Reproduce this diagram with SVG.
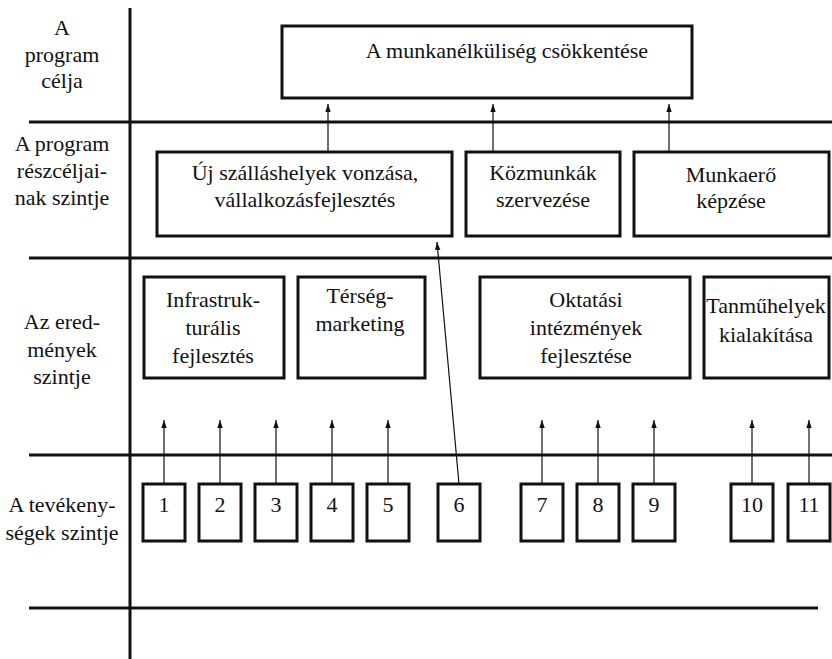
<svg xmlns="http://www.w3.org/2000/svg" width="832" height="659" viewBox="0 0 832 659" font-family="'Liberation Serif', 'Times New Roman', serif">
<style>
  .lbl { font-family: "Liberation Serif", "Times New Roman", serif; font-size: 22px; fill: #111; text-anchor: middle; }
  .box { fill: #fff; stroke: #111; stroke-width: 3; }
  .div { stroke: #111; stroke-width: 3; fill: none; }
  .con { stroke: #111; stroke-width: 1.2; fill: none; marker-end: url(#ah); }
</style>
<defs>
  <marker id="ah" markerWidth="8" markerHeight="8" viewBox="0 0 8 8" refX="8" refY="4" orient="auto" markerUnits="userSpaceOnUse">
    <path d="M0,1.3 L8,4 L0,6.7 z" fill="#111"/>
  </marker>
</defs>
<rect width="832" height="659" fill="#fff"/>

<g id="grid">
  <line class="div" x1="130" y1="8" x2="130" y2="659"/>
  <line class="div" x1="29" y1="122" x2="832" y2="122"/>
  <line class="div" x1="29" y1="258" x2="832" y2="258"/>
  <line class="div" x1="29" y1="455" x2="832" y2="455"/>
  <line class="div" x1="29" y1="608" x2="818" y2="608"/>
</g>

<g id="level-labels">
  <text class="lbl" x="62" y="35">A</text>
  <text class="lbl" x="62" y="62">program</text>
  <text class="lbl" x="62" y="88">célja</text>
  <text class="lbl" x="62" y="151">A program</text>
  <text class="lbl" x="62" y="178">részcéljai-</text>
  <text class="lbl" x="62" y="205">nak szintje</text>
  <text class="lbl" x="62" y="329">Az ered-</text>
  <text class="lbl" x="62" y="357">mények</text>
  <text class="lbl" x="62" y="384">szintje</text>
  <text class="lbl" x="62" y="512">A tevékeny-</text>
  <text class="lbl" x="62" y="540">ségek szintje</text>
</g>

<g id="connectors">
  <line class="con" x1="328" y1="151" x2="328" y2="104"/>
  <line class="con" x1="493" y1="151" x2="493" y2="104"/>
  <line class="con" x1="669" y1="151" x2="669" y2="104"/>
  <line class="con" x1="164" y1="484" x2="164" y2="420"/>
  <line class="con" x1="220" y1="484" x2="220" y2="420"/>
  <line class="con" x1="276" y1="484" x2="276" y2="420"/>
  <line class="con" x1="332" y1="484" x2="332" y2="420"/>
  <line class="con" x1="388" y1="484" x2="388" y2="420"/>
  <line class="con" x1="542" y1="484" x2="542" y2="420"/>
  <line class="con" x1="598" y1="484" x2="598" y2="420"/>
  <line class="con" x1="654" y1="484" x2="654" y2="420"/>
  <line class="con" x1="752" y1="484" x2="752" y2="420"/>
  <line class="con" x1="809" y1="484" x2="809" y2="420"/>
  <line class="con" x1="459" y1="484" x2="437" y2="242"/>
</g>

<g id="goal">
  <rect class="box" x="282" y="26" width="410" height="72"/>
  <text class="lbl" x="507" y="58">A munkanélküliség csökkentése</text>
</g>

<g id="sub1">
  <rect class="box" x="157" y="152" width="295" height="84"/>
  <text class="lbl" x="305" y="180">Új szálláshelyek vonzása,</text>
  <text class="lbl" x="305" y="207">vállalkozásfejlesztés</text>
</g>
<g id="sub2">
  <rect class="box" x="466" y="152" width="154" height="84"/>
  <text class="lbl" x="543" y="180">Közmunkák</text>
  <text class="lbl" x="543" y="207">szervezése</text>
</g>
<g id="sub3">
  <rect class="box" x="634" y="152" width="195" height="84"/>
  <text class="lbl" x="731" y="182">Munkaerő</text>
  <text class="lbl" x="731" y="208">képzése</text>
</g>

<g id="res1">
  <rect class="box" x="144" y="277" width="140" height="101"/>
  <text class="lbl" x="213" y="307">Infrastruk-</text>
  <text class="lbl" x="213" y="335">turális</text>
  <text class="lbl" x="213" y="363">fejlesztés</text>
</g>
<g id="res2">
  <rect class="box" x="298" y="277" width="127" height="101"/>
  <text class="lbl" x="360" y="303">Térség-</text>
  <text class="lbl" x="360" y="331">marketing</text>
</g>
<g id="res3">
  <rect class="box" x="480" y="277" width="210" height="101"/>
  <text class="lbl" x="586" y="307">Oktatási</text>
  <text class="lbl" x="586" y="335">intézmények</text>
  <text class="lbl" x="586" y="363">fejlesztése</text>
</g>
<g id="res4">
  <rect class="box" x="704" y="277" width="125" height="101"/>
  <text class="lbl" x="766" y="313">Tanműhelyek</text>
  <text class="lbl" x="766" y="342">kialakítása</text>
</g>

<g id="act1"><rect class="box" x="143" y="484" width="42" height="57"/><text class="lbl" x="164" y="512">1</text></g>
<g id="act2"><rect class="box" x="199" y="484" width="42" height="57"/><text class="lbl" x="220" y="512">2</text></g>
<g id="act3"><rect class="box" x="255" y="484" width="42" height="57"/><text class="lbl" x="276" y="512">3</text></g>
<g id="act4"><rect class="box" x="311" y="484" width="42" height="57"/><text class="lbl" x="332" y="512">4</text></g>
<g id="act5"><rect class="box" x="367" y="484" width="42" height="57"/><text class="lbl" x="388" y="512">5</text></g>
<g id="act6"><rect class="box" x="438" y="484" width="42" height="57"/><text class="lbl" x="459" y="512">6</text></g>
<g id="act7"><rect class="box" x="521" y="484" width="42" height="57"/><text class="lbl" x="542" y="512">7</text></g>
<g id="act8"><rect class="box" x="577" y="484" width="42" height="57"/><text class="lbl" x="598" y="512">8</text></g>
<g id="act9"><rect class="box" x="633" y="484" width="42" height="57"/><text class="lbl" x="654" y="512">9</text></g>
<g id="act10"><rect class="box" x="731" y="484" width="42" height="57"/><text class="lbl" x="752" y="512">10</text></g>
<g id="act11"><rect class="box" x="788" y="484" width="42" height="57"/><text class="lbl" x="809" y="512">11</text></g>
</svg>
